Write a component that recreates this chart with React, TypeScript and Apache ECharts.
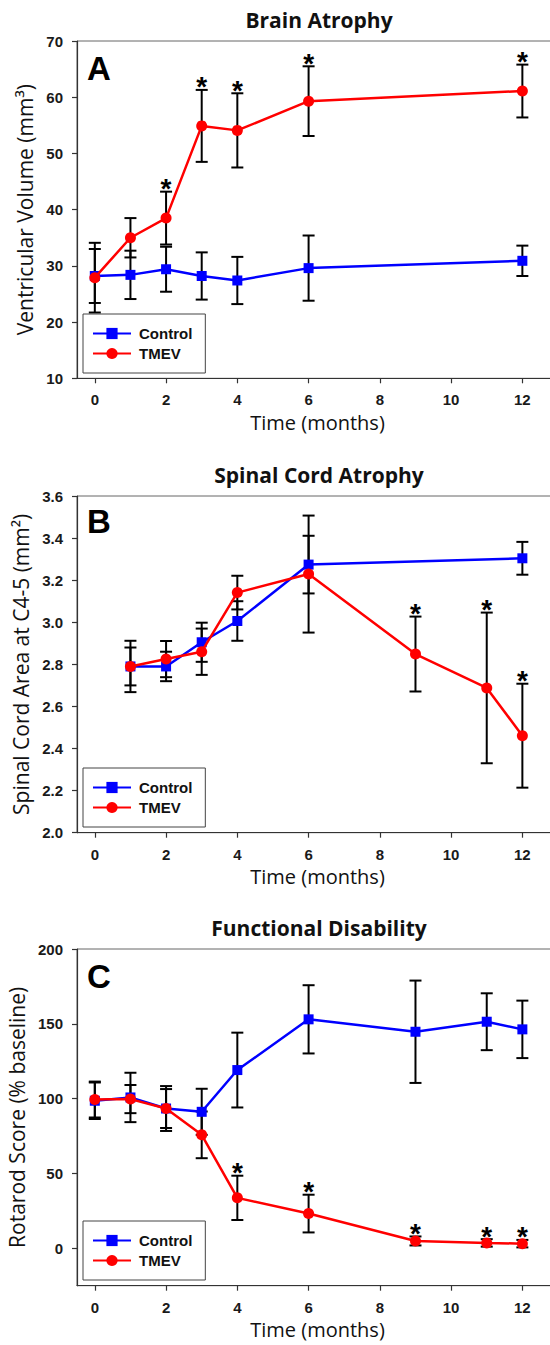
import React, { useEffect, useRef } from "react";
import * as echarts from "echarts";

// ---------- data ----------
const monthTicks = [0, 2, 4, 6, 8, 10, 12];

// Panel A – Brain atrophy (ventricular volume, mm^3)
const brainMonths = [0, 1, 2, 3, 4, 6, 12];
const brainControl = [28.2, 28.4, 29.4, 28.2, 27.4, 29.6, 30.9];
const brainControlErr = [4.8, 4.3, 4.0, 4.2, 4.2, 5.8, 2.7];
const brainTmev = [27.9, 35.0, 38.5, 54.9, 54.1, 59.3, 61.1];
const brainTmevErr = [6.2, 3.5, 4.7, 6.4, 6.6, 6.2, 4.7];
const brainSig = [false, false, true, true, true, true, true];
const brainTicks = [10, 20, 30, 40, 50, 60, 70];

// Panel B – Spinal cord atrophy (area at C4-5, mm^2)
const cordControlMonths = [1, 2, 3, 4, 6, 12];
const cordControl = [2.79, 2.79, 2.905, 3.006, 3.274, 3.304];
const cordControlErr = [0.09, 0.07, 0.093, 0.094, 0.137, 0.078];
const cordTmevMonths = [1, 2, 3, 4, 6, 9, 11, 12];
const cordTmev = [2.79, 2.825, 2.86, 3.141, 3.229, 2.849, 2.688, 2.461];
const cordTmevErr = [0.122, 0.086, 0.11, 0.08, 0.278, 0.178, 0.358, 0.247];
const cordSig = [false, false, false, false, false, true, true, true];

// Panel C – Functional disability (rotarod, % baseline)
const rotMonths = [0, 1, 2, 3, 4, 6, 9, 11, 12];
const rotControl = [98.6, 100.8, 93.4, 91.2, 119.1, 153.0, 144.7, 151.4, 146.3];
const rotControlErr = [12.2, 16.5, 13, 15.4, 25, 22.8, 34.2, 19, 19.2];
const rotTmev = [99.4, 99.7, 93.4, 75.8, 33.7, 23.2, 4.9, 3.6, 3.1];
const rotTmevErr = [12, 9.4, 15, 15.6, 14.8, 12.6, 3, 2.5, 2.5];
const rotSig = [false, false, false, false, true, true, true, true, true];
const rotTicks = [0, 50, 100, 150, 200];

const titles = ["Brain Atrophy", "Spinal Cord Atrophy", "Functional Disability"];
const letters = ["A", "B", "C"];
const yNames = ["Ventricular Volume (mm\u00B3)", "Spinal Cord Area at C4-5 (mm\u00B2)", "Rotarod Score (% baseline)"];
const xName = "Time (months)";
const seriesNames = ["Control", "TMEV"];

// ---------- layout ----------
const gridTops = [41, 496, 949];
const gridHeights = [337.3, 336.7, 336.7];
const titleY = [20, 475, 928];
const letterY = [68, 521, 976];
const legendTops = [314, 768, 1221];

const BLUE = "#0000ff";
const RED = "#ff0000";
const TICK_FONT = "Liberation Sans";
const TEXT_FONT = "Open Sans";

function errRender(params: any, api: any) {
  const x = api.value(0);
  const y = api.value(1);
  const e = api.value(2);
  const hi = api.coord([x, y + e]);
  const lo = api.coord([x, y - e]);
  const hw = 6;
  const style = { stroke: "#000", lineWidth: 2 };
  return {
    type: "group",
    children: [
      { type: "line", shape: { x1: hi[0], y1: hi[1], x2: lo[0], y2: lo[1] }, style },
      { type: "line", shape: { x1: hi[0] - hw, y1: hi[1], x2: hi[0] + hw, y2: hi[1] }, style },
      { type: "line", shape: { x1: lo[0] - hw, y1: lo[1], x2: lo[0] + hw, y2: lo[1] }, style },
    ],
  };
}

function starRender(params: any, api: any) {
  const p = api.coord([api.value(0), api.value(1)]);
  return {
    type: "text",
    x: p[0],
    y: p[1] - 3,
    style: {
      text: "*",
      fontSize: 28,
      fontWeight: "bold",
      fontFamily: TICK_FONT,
      fill: "#000",
      align: "center",
      verticalAlign: "middle",
    },
  };
}

function buildPanel(
  idx: number,
  ctrlMonths: number[],
  ctrl: number[],
  ctrlErr: number[],
  tmMonths: number[],
  tm: number[],
  tmErr: number[],
  sig: boolean[]
) {
  const stars = tmMonths
    .map((m, i) => (sig[i] ? [m, tm[i] + tmErr[i]] : null))
    .filter((d) => d !== null);
  return [
    {
      name: "Control error",
      type: "custom",
      xAxisIndex: idx,
      yAxisIndex: idx,
      renderItem: errRender,
      data: ctrlMonths.map((m, i) => [m, ctrl[i], ctrlErr[i]]),
      encode: { x: 0, y: 1 },
      z: 2,
      silent: true,
    },
    {
      name: "TMEV error",
      type: "custom",
      xAxisIndex: idx,
      yAxisIndex: idx,
      renderItem: errRender,
      data: tmMonths.map((m, i) => [m, tm[i], tmErr[i]]),
      encode: { x: 0, y: 1 },
      z: 2,
      silent: true,
    },
    {
      name: "Control",
      type: "line",
      xAxisIndex: idx,
      yAxisIndex: idx,
      data: ctrlMonths.map((m, i) => [m, ctrl[i]]),
      symbol: "rect",
      symbolSize: 10,
      itemStyle: { color: BLUE },
      lineStyle: { color: BLUE, width: 2.5 },
      z: 3,
    },
    {
      name: "TMEV",
      type: "line",
      xAxisIndex: idx,
      yAxisIndex: idx,
      data: tmMonths.map((m, i) => [m, tm[i]]),
      symbol: "circle",
      symbolSize: 11,
      itemStyle: { color: RED },
      lineStyle: { color: RED, width: 2.5 },
      z: 4,
    },
    {
      name: "Significance",
      type: "custom",
      xAxisIndex: idx,
      yAxisIndex: idx,
      renderItem: starRender,
      data: stars,
      encode: { x: 0, y: 1 },
      z: 5,
      silent: true,
    },
  ];
}

const axisLineStyle = { color: "#333", width: 1.2 };
const tickLabelStyle = {
  fontFamily: TICK_FONT,
  fontWeight: "bold" as const,
  fontSize: 15,
  color: "#1a1a1a",
};

export default function App() {
  const ref = useRef<HTMLDivElement>(null);

  useEffect(() => {
    if (!ref.current) return;
    const chart = echarts.init(ref.current, undefined, { renderer: "svg" });

    const grids = [0, 1, 2].map((i) => ({
      left: 77,
      top: gridTops[i],
      width: 481,
      height: gridHeights[i],
      show: true,
      borderColor: "#666",
      borderWidth: 1,
      backgroundColor: "transparent",
      containLabel: false,
      outerBoundsMode: "none",
    }));

    const xAxes = [0, 1, 2].map((i) => ({
      type: "value",
      gridIndex: i,
      min: -0.5,
      max: 13,
      name: xName,
      nameLocation: "middle",
      nameGap: 34,
      nameTextStyle: { fontFamily: TEXT_FONT, fontSize: 20, color: "#111" },
      axisLine: { show: true, onZero: false, lineStyle: axisLineStyle },
      axisTick: { show: true, length: 5, lineStyle: axisLineStyle, customValues: monthTicks },
      axisLabel: { ...tickLabelStyle, margin: 14, customValues: monthTicks },
      splitLine: { show: false },
    }));

    const yBase = (i: number) => ({
      type: "value",
      gridIndex: i,
      name: yNames[i],
      nameLocation: "middle",
      nameGap: 40,
      nameTextStyle: { fontFamily: TEXT_FONT, fontSize: 21, color: "#111" },
      axisLine: { show: true, onZero: false, lineStyle: axisLineStyle },
      axisTick: { show: true, length: 5, lineStyle: axisLineStyle },
      axisLabel: { ...tickLabelStyle, margin: 14 },
      splitLine: { show: false },
    });

    const yAxes = [
      { ...yBase(0), min: 10, max: 70, interval: 10,
        axisTick: { show: true, length: 5, lineStyle: axisLineStyle, customValues: brainTicks },
        axisLabel: { ...tickLabelStyle, margin: 14, customValues: brainTicks } },
      { ...yBase(1), min: 2.0, max: 3.6, interval: 0.2,
        axisLabel: { ...tickLabelStyle, margin: 14, formatter: (v: number) => v.toFixed(1) } },
      { ...yBase(2), min: -25, max: 200,
        axisTick: { show: true, length: 5, lineStyle: axisLineStyle, customValues: rotTicks },
        axisLabel: { ...tickLabelStyle, margin: 14, customValues: rotTicks } },
    ];

    const legends = [0, 1, 2].map((i) => ({
      left: 83,
      top: legendTops[i],
      orient: "vertical",
      data: seriesNames,
      itemWidth: 38,
      itemHeight: 14,
      itemGap: 5,
      padding: [12, 13, 12, 9],
      borderColor: "#444",
      borderWidth: 1,
      backgroundColor: "#fff",
      selectedMode: false,
      textStyle: {
        fontFamily: TICK_FONT,
        fontWeight: "bold",
        fontSize: 15,
        color: "#111",
        padding: [0, 0, 0, 3],
      },
    }));

    const graphics: any[] = [];
    for (let i = 0; i < 3; i++) {
      graphics.push({
        type: "text",
        x: 319,
        y: titleY[i],
        style: {
          text: titles[i],
          fontFamily: TEXT_FONT,
          fontWeight: "bold",
          fontSize: 21,
          fill: "#111",
          align: "center",
          verticalAlign: "middle",
        },
      });
      graphics.push({
        type: "text",
        x: 87,
        y: letterY[i],
        style: {
          text: letters[i],
          fontFamily: TICK_FONT,
          fontWeight: "bold",
          fontSize: 33,
          fill: "#000",
          align: "left",
          verticalAlign: "middle",
        },
      });
    }

    const series = [
      ...buildPanel(0, brainMonths, brainControl, brainControlErr, brainMonths, brainTmev, brainTmevErr, brainSig),
      ...buildPanel(1, cordControlMonths, cordControl, cordControlErr, cordTmevMonths, cordTmev, cordTmevErr, cordSig),
      ...buildPanel(2, rotMonths, rotControl, rotControlErr, rotMonths, rotTmev, rotTmevErr, rotSig),
    ];

    chart.setOption({
      animation: false,
      backgroundColor: "#fff",
      grid: grids,
      xAxis: xAxes,
      yAxis: yAxes,
      legend: legends,
      graphic: graphics,
      series,
    } as any);

    return () => chart.dispose();
  }, []);

  return (
    <div
      ref={ref}
      style={{ position: "absolute", left: 0, top: 0, width: 550, height: 1345 }}
    />
  );
}
